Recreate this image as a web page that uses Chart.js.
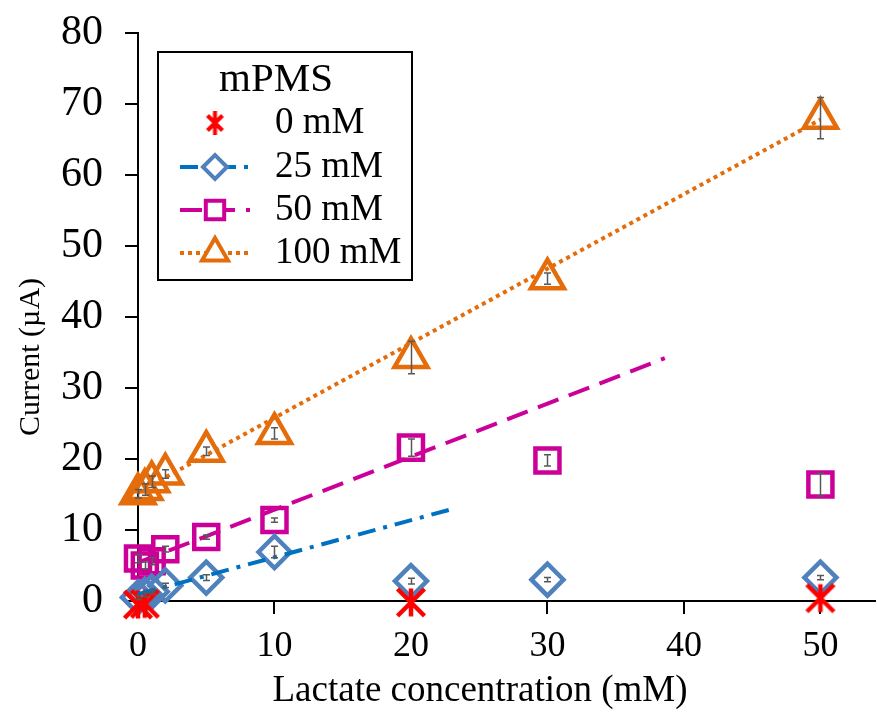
<!DOCTYPE html>
<html>
<head>
<meta charset="utf-8">
<script src="https://cdn.jsdelivr.net/npm/chart.js@4"></script>
<style>
  html, body { margin: 0; padding: 0; background: #fff; }
</style>
</head>
<body>
<canvas id="grafico" width="877" height="716"></canvas>
<script>
// concentraciones de lactato (mM)
const lactato = [0, 0.5, 1, 2, 5, 10, 20, 30, 50];

// corriente (µA) por concentracion de mPMS
const cero = [-0.5, -0.4, null, null, null, null, -0.2, null, 0.4];
const veinticinco = [0.5, 0.9, 1.3, 2.2, 3.3, 6.9, 2.8, 3.0, 3.3];
const cincuenta = [6.0, 5.0, 5.6, 7.3, 9.0, 11.4, 21.6, 19.8, 16.4];
const cien = [15.1, 15.7, 16.8, 17.9, 21.1, 23.6, 34.3, 45.4, 68.0];

// barras de error
const err25 = [0.3, 0.3, 0.3, 0.3, 0.4, 0.8, 0.4, 0.3, 0.3];
const err50 = [0.6, 0.5, 0.5, 0.4, 0.3, 0.3, 1.2, 0.8, 1.6];
const err100 = [0.6, 0.8, 0.8, 0.6, 0.6, 0.8, 2.3, 0.8, 2.9];

// lineas de tendencia (inicio y fin)
const tendX25 = [0, 23.3];
const tendY25 = [0.95, 13.1];
const tendX50 = [0, 38.6];
const tendY50 = [5.4, 34.2];
const tendX100 = [0, 50];
const tendY100 = [15.3, 67.8];

const etiquetas = ['0 mM', '25 mM', '50 mM', '100 mM'];
const tituloLeyenda = 'mPMS';
const tituloX = 'Lactate concentration (mM)';
const tituloY = 'Current (µA)';

const ticksX = [0, 10, 20, 30, 40, 50];

const FUENTE = '"Liberation Serif", "Times New Roman", serif';

function puntos(xs, ys) {
    return xs.map((x, k) => ({ x: x, y: ys[k] }));
}

function estrella(w, h, lw) {
    const c = document.createElement('canvas');
    c.width = w + lw * 2;
    c.height = h + lw * 2;
    const g = c.getContext('2d');
    const cx = c.width / 2, cy = c.height / 2;
    g.strokeStyle = '#FF0000';
    g.lineWidth = lw;
    g.beginPath();
    g.moveTo(cx - w / 2, cy - w / 2); g.lineTo(cx + w / 2, cy + w / 2);
    g.moveTo(cx + w / 2, cy - w / 2); g.lineTo(cx - w / 2, cy + w / 2);
    g.moveTo(cx, cy - h / 2); g.lineTo(cx, cy + h / 2);
    g.stroke();
    return c;
}

const estrellaGrafico = estrella(27, 28, 4.5);
const estrellaLeyenda = estrella(15, 24, 4);

const series = [
    { label: etiquetas[0], data: puntos(lactato, cero), pointStyle: estrellaGrafico,
      borderColor: '#FF0000', pointRadius: 15, dash: [], linea: null },
    { label: etiquetas[1], data: puntos(lactato, veinticinco), pointStyle: 'rectRot', errores: err25,
      borderColor: '#4F81BD', pointRadius: 16, dash: [18, 8, 4, 8], linea: '#0070C0' },
    { label: etiquetas[2], data: puntos(lactato, cincuenta), pointStyle: 'rect', errores: err50,
      borderColor: '#CC0099', pointRadius: 17, dash: [22, 11], linea: '#CC0099' },
    { label: etiquetas[3], data: puntos(lactato, cien), pointStyle: 'triangle', errores: err100,
      borderColor: '#E46C0A', pointRadius: 19, dash: [4, 4], linea: '#E46C0A' }
];

const datasets = series.map(s => ({
    label: s.label,
    data: s.data,
    showLine: false,
    pointStyle: s.pointStyle,
    pointRadius: s.pointRadius,
    pointHoverRadius: s.pointRadius,
    pointBorderWidth: 4.5,
    pointBorderColor: s.borderColor,
    pointBackgroundColor: 'rgba(0,0,0,0)',
    borderColor: s.borderColor,
    errores: s.errores,
    clip: false,
    order: 2
}));

const tendencias = [
    [tendX25, tendY25, series[1]],
    [tendX50, tendY50, series[2]],
    [tendX100, tendY100, series[3]]
];
tendencias.forEach(([xs, ys, s]) => {
    datasets.push({
        label: 'tendencia ' + s.label,
        data: puntos(xs, ys),
        showLine: true,
        borderColor: s.linea,
        borderWidth: 4,
        borderDash: s.dash,
        borderCapStyle: 'butt',
        pointRadius: 0,
        fill: false,
        clip: false,
        order: 1
    });
});

const barrasError = {
    id: 'barrasError',
    afterDatasetsDraw(chart) {
        const ctx = chart.ctx;
        const x = chart.scales.x, y = chart.scales.y;
        ctx.save();
        ctx.strokeStyle = '#595959';
        ctx.lineWidth = 1.5;
        chart.data.datasets.forEach(ds => {
            if (!ds.errores) return;
            ds.data.forEach((p, k) => {
                const e = ds.errores[k];
                if (p.y == null || !e) return;
                const px = Math.round(x.getPixelForValue(p.x)) + 0.5;
                const y1 = y.getPixelForValue(p.y - e);
                const y2 = y.getPixelForValue(p.y + e);
                ctx.beginPath();
                ctx.moveTo(px, y1); ctx.lineTo(px, y2);
                ctx.moveTo(px - 3.5, y1); ctx.lineTo(px + 3.5, y1);
                ctx.moveTo(px - 3.5, y2); ctx.lineTo(px + 3.5, y2);
                ctx.stroke();
            });
        });
        ctx.restore();
    }
};

// titulos de ejes y leyenda con recuadro
const textos = {
    id: 'textos',
    afterDraw(chart) {
        const ctx = chart.ctx;
        ctx.save();
        ctx.fillStyle = '#000';
        ctx.textBaseline = 'middle';
        ctx.textAlign = 'center';
        ctx.font = '37px ' + FUENTE;
        ctx.fillText(tituloX, 480, 691);

        ctx.save();
        ctx.translate(31, 357);
        ctx.rotate(-Math.PI / 2);
        ctx.font = '30px ' + FUENTE;
        ctx.fillText(tituloY, 0, 0);
        ctx.restore();

        const caja = { x: 158, y: 52, w: 254, h: 228 };
        ctx.fillStyle = '#fff';
        ctx.fillRect(caja.x, caja.y, caja.w, caja.h);
        ctx.strokeStyle = '#000';
        ctx.lineWidth = 2;
        ctx.strokeRect(caja.x, caja.y, caja.w, caja.h);

        ctx.fillStyle = '#000';
        ctx.font = '41px ' + FUENTE;
        ctx.fillText(tituloLeyenda, 276, 80);

        const filas = [123, 167, 210, 253];
        ctx.textAlign = 'left';
        ctx.font = '37px ' + FUENTE;
        series.forEach((s, k) => {
            const yy = filas[k];
            if (s.linea) {
                ctx.save();
                ctx.strokeStyle = s.linea;
                ctx.lineWidth = 4;
                ctx.setLineDash(s.dash);
                ctx.beginPath();
                ctx.moveTo(180, yy); ctx.lineTo(250, yy);
                ctx.stroke();
                ctx.restore();
            }
            if (k === 0) {
                ctx.drawImage(estrellaLeyenda, 215 - estrellaLeyenda.width / 2, yy - estrellaLeyenda.height / 2);
            } else {
                ctx.save();
                ctx.strokeStyle = s.borderColor;
                ctx.fillStyle = '#fff';
                ctx.lineWidth = 4;
                Chart.helpers.drawPoint(ctx, { pointStyle: s.pointStyle, radius: s.pointRadius - 4, borderWidth: 4 }, 215, yy);
                ctx.restore();
            }
            ctx.fillStyle = '#000';
            ctx.fillText(s.label, 275, yy);
        });
        ctx.restore();
    }
};

function sinRelleno(s) {
    s.paddingLeft = 0; s.paddingRight = 0; s.paddingTop = 0; s.paddingBottom = 0;
}

new Chart(document.getElementById('grafico').getContext('2d'), {
    type: 'scatter',
    data: { datasets: datasets },
    options: {
        responsive: false,
        animation: false,
        events: [],
        layout: { autoPadding: false, padding: { top: 33, right: 2, left: 0, bottom: 0 } },
        plugins: { legend: { display: false }, tooltip: { enabled: false } },
        scales: {
            x: {
                type: 'linear',
                min: 0,
                max: 54,
                afterBuildTicks: s => { s.ticks = ticksX.map(v => ({ value: v })); },
                afterFit: s => { s.height = 115; sinRelleno(s); },
                grid: { drawOnChartArea: false, drawTicks: true, tickLength: 13, color: '#000', lineWidth: 2 },
                border: { color: '#000', width: 2 },
                ticks: { color: '#000', font: { family: FUENTE, size: 36 }, padding: 11, maxRotation: 0 }
            },
            y: {
                min: 0,
                max: 80,
                ticks: { stepSize: 10, color: '#000', font: { family: FUENTE, size: 42 }, padding: 22 },
                afterFit: s => { s.width = 138; sinRelleno(s); },
                grid: { drawOnChartArea: false, drawTicks: true, tickLength: 13, color: '#000', lineWidth: 2 },
                border: { color: '#000', width: 2 }
            }
        }
    },
    plugins: [barrasError, textos]
});
</script>
</body>
</html>
